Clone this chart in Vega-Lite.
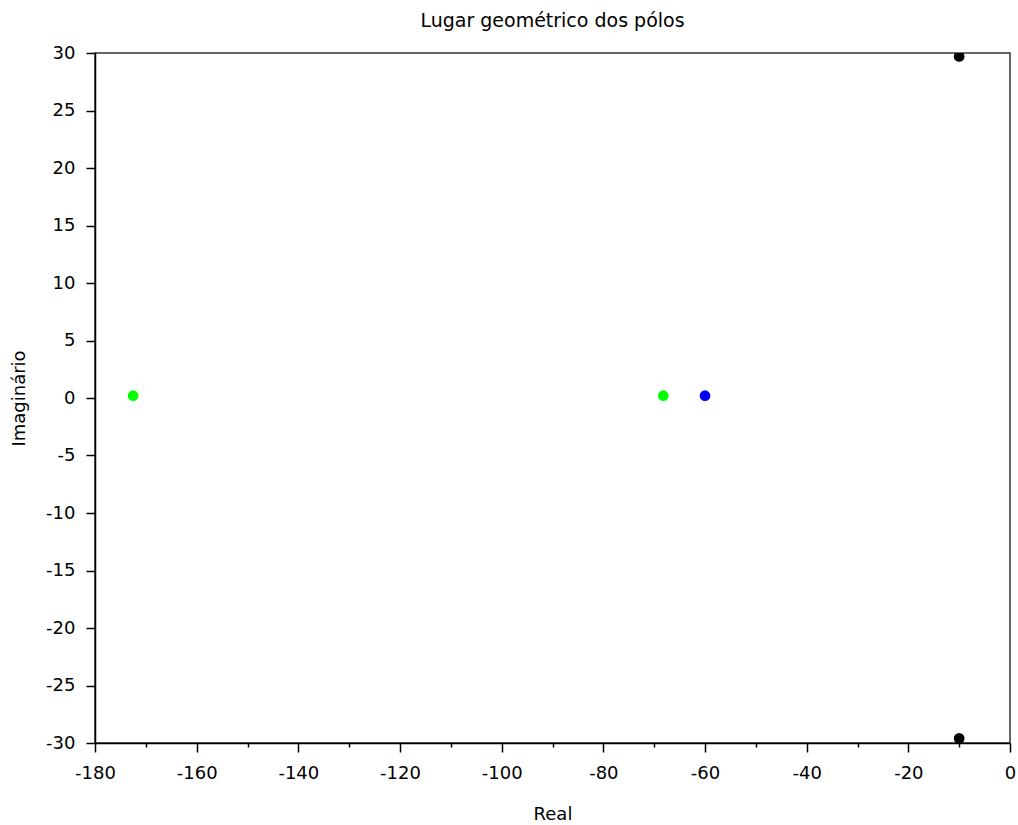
{
  "$schema": "https://vega.github.io/schema/vega-lite/v6.json",
  "autosize": "none",
  "width": 915,
  "height": 690,
  "padding": {"left": 95, "top": 53, "right": 8, "bottom": 82},
  "background": "white",
  "title": {"text": "Lugar geométrico dos pólos", "font": "DejaVu Sans", "fontSize": 19, "fontWeight": "normal", "color": "#000000", "offset": 13, "anchor": "middle"},
  "config": {
    "view": {"stroke": "#333333", "strokeWidth": 1.5},
    "axis": {"grid": false, "domainColor": "#000000", "tickColor": "#000000", "labelColor": "#000000", "titleColor": "#000000", "labelFont": "DejaVu Sans", "titleFont": "DejaVu Sans", "labelFontSize": 18, "titleFontSize": 18, "titleFontWeight": "normal", "domainWidth": 1.5, "tickWidth": 1.5}
  },
  "data": {"values": [
    {"re": -10, "im": 29.7, "grp": "a"},
    {"re": -10, "im": -29.6, "grp": "a"},
    {"re": -172.5, "im": 0.2, "grp": "b"},
    {"re": -68.2, "im": 0.2, "grp": "b"},
    {"re": -60, "im": 0.2, "grp": "c"}
  ]},
  "mark": {"type": "point", "filled": true, "size": 115, "opacity": 1, "clip": true},
  "encoding": {
    "x": {"field": "re", "type": "quantitative", "scale": {"domain": [-180, 0], "nice": false, "zero": false},
      "axis": {"title": "Real", "values": [-180,-170,-160,-150,-140,-130,-120,-110,-100,-90,-80,-70,-60,-50,-40,-30,-20,-10,0],
        "labelExpr": "datum.value % 20 === 0 ? replace(datum.label, '\u2212', '-') : ''",
        "tickSize": {"condition": {"test": "datum.value % 20 === 0", "value": 9}, "value": 4},
        "labelPadding": 12, "titlePadding": 23, "labelFlush": false}},
    "y": {"field": "im", "type": "quantitative", "scale": {"domain": [-30, 30], "nice": false, "zero": false},
      "axis": {"title": "Imaginário", "values": [-30,-25,-20,-15,-10,-5,0,5,10,15,20,25,30],
        "labelExpr": "replace(datum.label, '\u2212', '-')",
        "tickSize": 9, "labelPadding": 11, "titlePadding": 17}},
    "color": {"field": "grp", "type": "nominal", "scale": {"domain": ["a","b","c"], "range": ["#000000", "#00ff00", "#0000ff"]}, "legend": null}
  }
}
